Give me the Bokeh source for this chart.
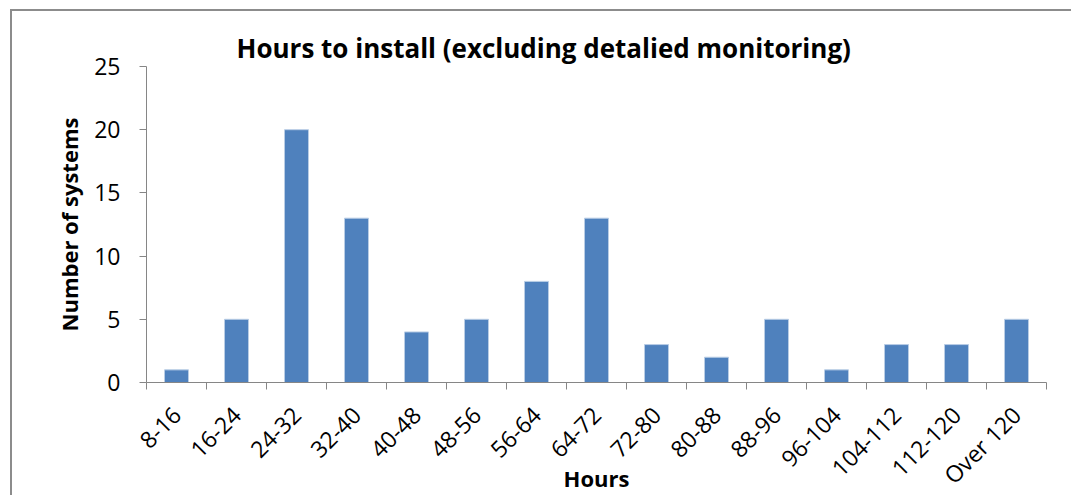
import math
from bokeh.plotting import figure
from bokeh.models import ColumnDataSource, FixedTicker, Range1d, Title
from bokeh.embed import file_html
from bokeh.resources import INLINE

categories = ["8-16", "16-24", "24-32", "32-40", "40-48", "48-56", "56-64", "64-72",
              "72-80", "80-88", "88-96", "96-104", "104-112", "112-120", "Over 120"]
counts = [1, 5, 20, 13, 4, 5, 8, 13, 3, 2, 5, 1, 3, 3, 5]
y_ticks = [0, 5, 10, 15, 20, 25]

n = len(categories)
centers = [i + 0.5 for i in range(n)]
source = ColumnDataSource(dict(x=centers, count=counts, cat=categories))

FONT = "Open Sans"
GRAY = "#868686"
BORDER = "#8c8c8c"

p = figure(width=1071, height=495, output_backend="svg", toolbar_location=None,
           x_range=Range1d(0, n), y_range=Range1d(0, 25),
           min_border_left=146, min_border_right=25, min_border_top=66, min_border_bottom=112,
           border_fill_color=None, background_fill_color="white")

# outer chart-area border (only its top and left edges fall inside the picture)
p.styles = {
    "background": (f"linear-gradient({BORDER},{BORDER}) 10px 9px / 100% 2px no-repeat, "
                   f"linear-gradient({BORDER},{BORDER}) 10px 9px / 2px 100% no-repeat, white"),
}

p.vbar(x="x", top="count", width=0.4, source=source,
       fill_color="#4f81bd", line_color="#b9cde5", line_width=1)

p.grid.visible = False
p.outline_line_color = None

# y axis
ya = p.yaxis[0]
ya.ticker = FixedTicker(ticks=y_ticks)
ya.axis_line_color = GRAY
ya.major_tick_line_color = GRAY
ya.major_tick_out = 7
ya.major_tick_in = 0
ya.minor_tick_line_color = None
ya.major_label_text_font = FONT
ya.major_label_text_font_size = "23px"
ya.major_label_text_color = "black"
ya.major_label_standoff = 19
ya.axis_label = "Number of systems"
ya.axis_label_text_font = FONT
ya.axis_label_text_font_size = "22px"
ya.axis_label_text_font_style = "bold"
ya.axis_label_text_color = "black"
ya.axis_label_standoff = 7

# x axis
xa = p.xaxis[0]
xa.ticker = FixedTicker(ticks=centers, minor_ticks=list(range(n + 1)))
xa.major_label_overrides = {c: lab for c, lab in zip(centers, categories)}
xa.axis_line_color = GRAY
xa.major_tick_line_color = None
xa.major_tick_out = 0
xa.major_tick_in = 0
xa.minor_tick_line_color = GRAY
xa.minor_tick_out = 7
xa.minor_tick_in = 0
xa.major_label_orientation = math.pi / 4
xa.major_label_text_font = FONT
xa.major_label_text_font_size = "23px"
xa.major_label_text_color = "black"
xa.major_label_standoff = 21
xa.axis_label = "Hours"
xa.axis_label_text_font = FONT
xa.axis_label_text_font_size = "22px"
xa.axis_label_text_font_style = "bold"
xa.axis_label_text_color = "black"
xa.axis_label_standoff = -42

p.title = Title(text="Hours to install (excluding detalied monitoring)", align="left",
                text_font=FONT, text_font_size="26px", text_font_style="bold",
                text_color="black", offset=90, standoff=1)

open("out.html", "w").write(file_html(p, INLINE))
